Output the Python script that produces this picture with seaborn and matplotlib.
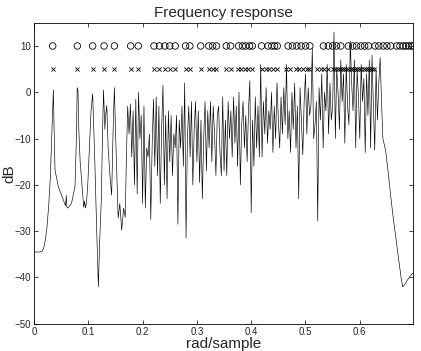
import numpy as np
import pandas as pd
import matplotlib
matplotlib.use("Agg")
import matplotlib.pyplot as plt
import seaborn as sns

# Curve: smooth low-frequency part
freq_low = [0, 0.005, 0.01, 0.015, 0.018, 0.021, 0.024, 0.027, 0.03, 0.032, 0.034, 0.0356,
            0.037, 0.0387, 0.0448, 0.054, 0.058, 0.0595, 0.0605, 0.0625, 0.069, 0.0755, 0.078,
            0.0795, 0.081, 0.0825, 0.085, 0.089, 0.0915, 0.093, 0.0945, 0.0965, 0.099, 0.102,
            0.105, 0.108, 0.1095, 0.112, 0.115, 0.1185, 0.121, 0.124, 0.126, 0.128, 0.1305,
            0.132, 0.134, 0.1365, 0.14, 0.143, 0.1455, 0.148, 0.1505, 0.153, 0.155, 0.158,
            0.1615, 0.165, 0.168]
mag_low = [-34.5, -34.5, -34.5, -34.3, -33.6, -31.8, -29, -24.5, -18.5, -12, -5, 0.5,
           -8, -16.8, -20.4, -23.3, -24.5, -22.3, -24.8, -25, -24, -20.4, -10,
           1, 0.3, -8, -15, -21, -24.8, -23.5, -25, -24, -20, -12,
           -4, -0.3, -6, -15, -28, -42, -32, -23, -10, 0.5, -8,
           -5, -2.8, -12, -18.2, -22.2, -9, 1, -10, -20, -27.2, -24,
           -29.8, -25, -27]

# Curve: dense middle part (every 0.0025 from 0.17)
mag_mid = [
    -15, -3, -9, -2.5, -14, -4, -20, -1.5, -22, 0,
    -10, -5, -24, -3, -25, -12, -14, -9, -27.5, -12,
    -1.5, -16, -1, -18, -3, -24, -8, 1.5, -20, -5,
    -23, -4, -15, -5, -18, -9, -12, -5, -28.5, -6,
    -12, -3, -16, 2, -31.5, -10, -3, -14, -2, -20,
    -8, -2, -15, -4, -19.5, -6, -23, -10, -2, -17,
    -4, -12, -2, -15, -3, -9, -18, -5, -3, -13,
    -18, -1, -17, -6, -18, -2, -10, -4, -14, -1,
    -11, -3, -16, 0, -20, -7, -2, -12, -5, -15,
    -4, 2.5, -26, -6, -16, -1, -12, -3, -14, 6,
    -14, -2, -9, 1, -11, -4, -8, 0, -13, -3,
    -10, 2, -6, -12, -1, -9, 1, -7, 6, -10,
    -4, -13, 0, -8, 2, -12, -3, -23, 1, -6,
    -13.5, -2, 4, -9, 1, -5, -3, 9.5, -10, -7,
    -2, -27.8, 1, -6, 4, -12, 0, -4, 6, -9,
    2, -6, -3, 13, -10, 5, 0, -8, 7, -2,
    4, -11, 6, -3, -7, 11, 2, -4, 7, -12,
    5, -1, -10, 6, -2, 3, -13, 4, -5, 7,
    -12, 8, -3, -12.5, 5, -6, 2, 7.5, -2, -10,
]
freq_mid = [0.17 + 0.0025 * i for i in range(len(mag_mid))]

# Curve: stop-band tail
freq_high = [0.6475, 0.652, 0.657, 0.662, 0.667, 0.672, 0.676, 0.679, 0.683, 0.688, 0.693, 0.698]
mag_high = [-12.5, -17, -22.5, -27.5, -32, -36.5, -40, -42, -41.5, -40.5, -39.7, -39]

# Marker rows
circle_x = [0.0344, 0.0798, 0.108, 0.129, 0.148, 0.178, 0.192,
            0.221, 0.231, 0.241, 0.25, 0.26, 0.279, 0.287, 0.307,
            0.322, 0.329, 0.336, 0.354, 0.362,
            0.377, 0.384, 0.39, 0.397, 0.402, 0.419,
            0.431, 0.438, 0.443, 0.448,
            0.468, 0.476, 0.484, 0.492, 0.5, 0.508,
            0.533, 0.542, 0.55, 0.557, 0.565,
            0.579, 0.587, 0.594, 0.602, 0.609, 0.616,
            0.628, 0.635, 0.643, 0.65, 0.657,
            0.668, 0.674, 0.68, 0.685, 0.69, 0.695, 0.698]
cross_x = [0.0344, 0.0798, 0.108, 0.129, 0.148, 0.178, 0.192,
           0.221, 0.231, 0.241, 0.25, 0.26, 0.279, 0.287, 0.307,
           0.322, 0.329, 0.336, 0.354, 0.362,
           0.376, 0.382, 0.388, 0.395, 0.401, 0.42,
           0.427, 0.433, 0.44, 0.447,
           0.464, 0.472, 0.482, 0.488, 0.496, 0.502, 0.507,
           0.522, 0.528, 0.535, 0.542,
           0.551, 0.555, 0.559, 0.563, 0.567, 0.571, 0.575, 0.579, 0.583, 0.587,
           0.591, 0.595, 0.599, 0.603, 0.607, 0.611, 0.615, 0.619, 0.623, 0.627]

curve = pd.DataFrame({"freq": freq_low + freq_mid + freq_high,
                      "dB": mag_low + mag_mid + mag_high})
circles = pd.DataFrame({"freq": circle_x, "dB": [10] * len(circle_x)})
crosses = pd.DataFrame({"freq": cross_x, "dB": [5] * len(cross_x)})

sns.set_style("ticks")
plt.rcParams["font.family"] = ["Liberation Sans", "DejaVu Sans"]

fig = plt.figure(figsize=(4.21, 3.51), dpi=100)
ax = fig.add_axes([0.0808, 0.0775, 0.9002, 0.8575])

sns.lineplot(data=curve, x="freq", y="dB", sort=False, estimator=None,
             color="black", linewidth=0.45, ax=ax)
sns.scatterplot(data=circles, x="freq", y="dB", marker="o", s=22,
                facecolor="none", edgecolor="black", linewidth=0.6, ax=ax)
sns.scatterplot(data=crosses, x="freq", y="dB", marker="x", s=9,
                color="black", linewidth=0.6, ax=ax)

ax.set_xlim(0, 0.698)
ax.set_ylim(-50, 15)
ax.set_xticks([0, 0.1, 0.2, 0.3, 0.4, 0.5, 0.6])
ax.set_xticklabels(["0", "0.1", "0.2", "0.3", "0.4", "0.5", "0.6"])
ax.set_yticks([-50, -40, -30, -20, -10, 0, 10])
ax.set_yticklabels(["\u221250", "\u221240", "\u221230", "\u221220", "\u221210", "0", "10"])
ax.tick_params(direction="in", length=3, width=0.6, labelsize=7,
               top=True, right=True, pad=2)
for side in ax.spines.values():
    side.set_linewidth(0.6)
    side.set_color("black")

ax.set_title("Frequency response", fontsize=11, pad=4)
ax.set_xlabel("rad/sample", fontsize=11, labelpad=0)
ax.set_ylabel("dB", fontsize=11)
ax.yaxis.set_label_coords(-0.047, 0.5)

fig.savefig("out.png", dpi=100)
